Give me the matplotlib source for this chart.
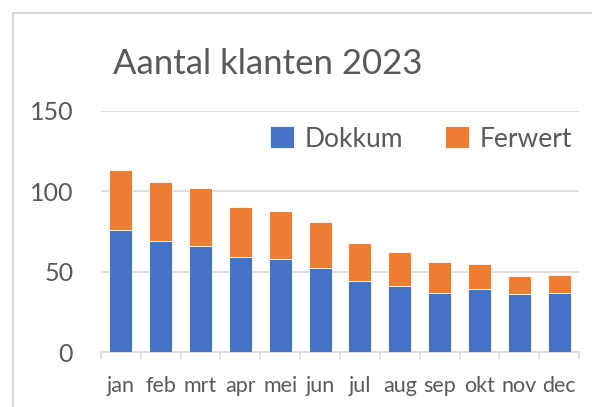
import numpy as np
import matplotlib
matplotlib.use("Agg")
import matplotlib.pyplot as plt
from matplotlib.lines import Line2D

maanden = ["jan", "feb", "mrt", "apr", "mei", "jun",
           "jul", "aug", "sep", "okt", "nov", "dec"]
dokkum = [76, 69, 66, 59, 58, 52, 44, 41, 37, 39, 36, 37]
ferwert = [37, 37, 36, 31, 30, 29, 24, 21, 19, 16, 11, 11]

blauw = "#4472C4"
oranje = "#ED7D31"
tekst = "#595959"
lijn = "#D9D9D9"

plt.rcParams["font.family"] = ["Lato", "DejaVu Sans"]

fig = plt.figure(figsize=(5.92, 4.07), dpi=100)
ax = fig.add_axes([101 / 592, 1 - 352 / 407, 478 / 592, 241 / 407])

x = np.arange(len(maanden))
b1 = ax.bar(x, dokkum, width=0.58, color=blauw, edgecolor="white", linewidth=0.6, zorder=3, label="Dokkum")
b2 = ax.bar(x, ferwert, bottom=dokkum, width=0.58, color=oranje, edgecolor="white", linewidth=0.6,
            zorder=3, label="Ferwert")

ax.set_xlim(-0.5, len(maanden) - 0.5)
ax.set_ylim(0, 150)
ax.set_yticks([0, 50, 100, 150])
ax.yaxis.grid(True, color=lijn, linewidth=1.2, zorder=0)
ax.set_axisbelow(True)

ax.set_xticks(x)
ax.set_xticklabels(maanden)
ax.set_xticks(np.arange(-0.5, len(maanden)), minor=True)
ax.tick_params(axis="x", which="major", length=0, pad=17, labelsize=15.5, labelcolor=tekst)
ax.tick_params(axis="x", which="minor", length=5, width=1.2, color=lijn)
ax.tick_params(axis="y", length=0, pad=20, labelsize=18, labelcolor=tekst)

for s in ["top", "right", "left"]:
    ax.spines[s].set_visible(False)
ax.spines["bottom"].set_color(lijn)
ax.spines["bottom"].set_linewidth(1.2)

fig.text(268 / 592, 1 - 74 / 407, "Aantal klanten 2023", ha="center", va="baseline",
         fontsize=25, color=tekst)

fig.legend(handles=[b1, b2], loc="center", bbox_to_anchor=(421 / 592, 1 - 139 / 407),
           ncol=2, frameon=False, fontsize=19, labelcolor=tekst,
           handlelength=0.9, handleheight=0.9, handletextpad=0.4, columnspacing=1.6)

# chart border (cropped right and bottom)
fig.add_artist(Line2D([12.5 / 592, 1], [1 - 12.5 / 407, 1 - 12.5 / 407], color=lijn, linewidth=1.5))
fig.add_artist(Line2D([12.5 / 592, 12.5 / 592], [0, 1 - 12.5 / 407], color=lijn, linewidth=1.5))

fig.savefig("out.png", dpi=100)
